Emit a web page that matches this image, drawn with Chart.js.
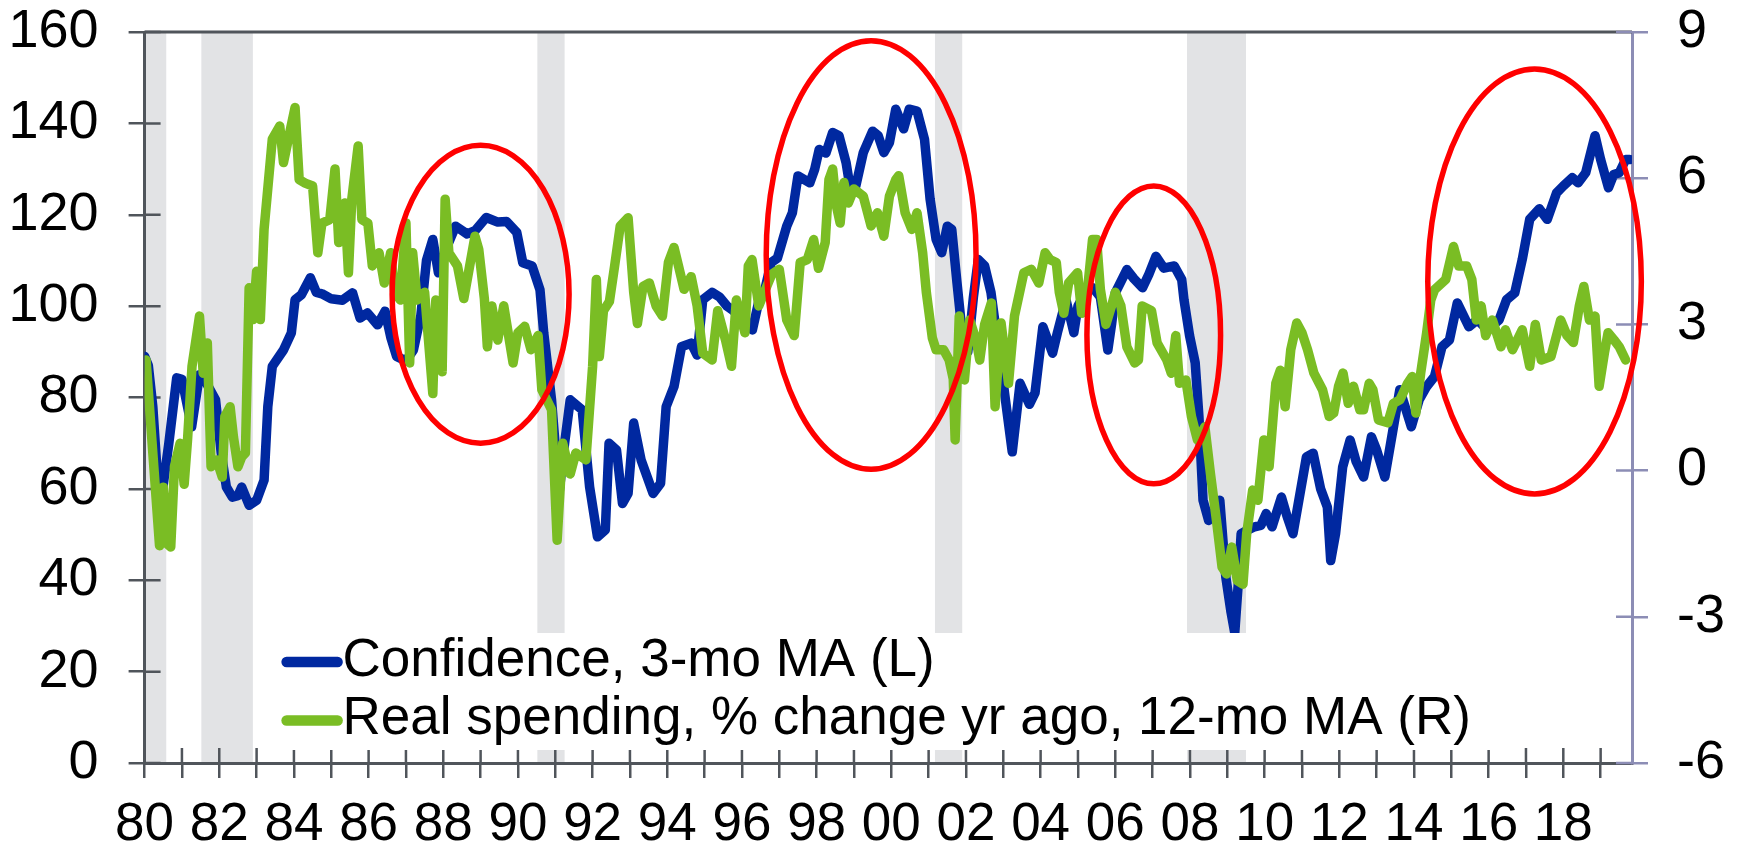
<!DOCTYPE html>
<html>
<head>
<meta charset="utf-8">
<script src="https://cdn.jsdelivr.net/npm/chart.js@4"></script>
<style>
  body { margin: 0; background: #fff; }
  #chart-box { width: 1740px; height: 849px; }
</style>
</head>
<body>
<div id="chart-box"><canvas id="confidence-chart" width="1740" height="849"></canvas></div>
<script>
// Consumer confidence (left axis), 3-mo moving average
const confYears = [
  1980.0, 1980.1, 1980.22, 1980.35, 1980.48, 1980.65, 1980.86, 1981.0, 1981.26, 1981.47, 1981.6, 1981.9,
  1982.05, 1982.19, 1982.35, 1982.5, 1982.6, 1982.8, 1983.0, 1983.2, 1983.3, 1983.42, 1983.72, 1983.93,
  1984.03, 1984.2, 1984.44, 1984.6, 1984.75, 1985.0, 1985.3, 1985.57, 1985.77, 1985.97, 1986.24, 1986.44,
  1986.6, 1986.75, 1987.0, 1987.2, 1987.4, 1987.55, 1987.72, 1987.87, 1988.1, 1988.33, 1988.64, 1988.85,
  1989.15, 1989.46, 1989.7, 1989.97, 1990.13, 1990.38, 1990.59, 1990.69, 1990.9, 1991.1, 1991.25, 1991.4,
  1991.72, 1991.92, 1992.13, 1992.34, 1992.44, 1992.64, 1992.8, 1992.95, 1993.1, 1993.3, 1993.62, 1993.82,
  1993.97, 1994.18, 1994.38, 1994.64, 1994.8, 1994.95, 1995.2, 1995.4, 1995.6, 1995.77, 1996.0, 1996.28,
  1996.45, 1996.59, 1996.78, 1996.95, 1997.2, 1997.35, 1997.5, 1997.82, 1997.95, 1998.07, 1998.25, 1998.43,
  1998.6, 1998.79, 1998.89, 1999.05, 1999.25, 1999.5, 1999.65, 1999.8, 1999.95, 2000.12, 2000.33, 2000.48,
  2000.69, 2000.89, 2001.04, 2001.2, 2001.35, 2001.5, 2001.62, 2001.76, 2001.9, 2002.05, 2002.2, 2002.33,
  2002.5, 2002.67, 2002.85, 2003.0, 2003.24, 2003.45, 2003.7, 2003.85, 2004.06, 2004.32, 2004.45, 2004.68,
  2004.89, 2005.0, 2005.2, 2005.4, 2005.6, 2005.8, 2005.9, 2006.0, 2006.31, 2006.5, 2006.73, 2006.9,
  2007.09, 2007.3, 2007.58, 2007.78, 2007.84, 2007.99, 2008.14, 2008.24, 2008.35, 2008.5, 2008.65, 2008.8,
  2008.96, 2009.1, 2009.2, 2009.3, 2009.37, 2009.55, 2009.73, 2009.9, 2010.04, 2010.2, 2010.45, 2010.6,
  2010.76, 2011.12, 2011.3, 2011.5, 2011.68, 2011.77, 2011.9, 2012.09, 2012.29, 2012.45, 2012.65, 2012.86,
  2013.0, 2013.22, 2013.42, 2013.62, 2013.93, 2014.14, 2014.34, 2014.55, 2014.75, 2014.95, 2015.16, 2015.47,
  2015.7, 2015.97, 2016.28, 2016.48, 2016.7, 2016.9, 2017.1, 2017.36, 2017.57, 2017.82, 2018.0, 2018.24,
  2018.4, 2018.6, 2018.85, 2019.0, 2019.21, 2019.35, 2019.5, 2019.67, 2019.78
];
const confValues = [
  89, 87, 78, 62, 59.7, 70, 84.3, 84, 73.6, 85, 84, 79.5,
  68, 60.4, 58.2, 58.5, 60.4, 56.4, 57.5, 61.9, 78, 86.8, 90.4, 94.1,
  101.4, 102.5, 106.2, 103, 102.7, 101.6, 101.3, 102.9, 97.4, 98.5, 95.9, 98.9,
  93, 89, 88, 90.4, 98, 110, 114.6, 107.3, 113, 117.5, 115.8, 116.5,
  119.4, 118.4, 118.5, 116.1, 109.5, 108.8, 103.6, 94.2, 79.5, 59, 70, 79.5,
  77.3, 60.4, 49.5, 51, 70, 68.5, 56.8, 59, 74.4, 66.3, 59, 61.2,
  78, 82.4, 91.1, 91.9, 89.3, 101.4, 103, 102, 100, 99, 97, 94.8,
  101, 102.8, 109.5, 110.5, 117.5, 120.4, 128.5, 127, 130, 134.3, 133.5, 138,
  137.3, 131.4, 126.3, 126.3, 133.6, 138.3, 137.3, 133.6, 135.8, 143.1, 138.8, 143.1,
  142.7, 136.5, 123.4, 114.6, 111.7, 117.5, 116.8, 105.1, 94, 90, 102, 110.2,
  108.8, 103, 92, 83.1, 68.1, 83.1, 78.5, 81, 95.5, 89.7, 94.2, 101.4,
  94.2, 100, 103, 104, 102, 90.4, 96, 102.9, 108, 106, 104, 107,
  110.9, 108.3, 108.8, 105.8, 101.4, 93.5, 87.6, 75.8, 57.5, 53.1, 55, 57.5,
  40.7, 33, 28.5, 40, 50.2, 51, 51.7, 52, 54.6, 51.7, 58.2, 54,
  50.2, 67, 67.8, 60, 56, 44.3, 50.2, 64.8, 70.7, 66, 62.6, 71.4,
  68.5, 62.6, 72.1, 81.7, 73.6, 79.5, 82.4, 84.6, 91.1, 92.6, 100.7, 95.5,
  97, 94.8, 97, 101.4, 102.9, 110.2, 119, 121.3, 119, 124.8, 126.3, 128.1,
  127, 129.2, 137.3, 132.1, 125.9, 128.8, 129.2, 132.1, 132.1
];

// Real spending, % change yr ago, 12-mo MA (right axis)
const spendYears = [
  1980.04, 1980.4, 1980.5, 1980.6, 1980.7, 1980.8, 1980.95, 1981.06, 1981.15, 1981.27, 1981.47, 1981.57,
  1981.68, 1981.78, 1981.93, 1982.08, 1982.15, 1982.29, 1982.38, 1982.5, 1982.6, 1982.7, 1982.8, 1982.9,
  1983.0, 1983.1, 1983.2, 1983.42, 1983.62, 1983.72, 1983.85, 1984.03, 1984.14, 1984.3, 1984.5, 1984.64,
  1984.75, 1984.96, 1985.1, 1985.2, 1985.36, 1985.46, 1985.55, 1985.72, 1985.82, 1985.98, 1986.1, 1986.28,
  1986.42, 1986.59, 1986.7, 1986.85, 1987.0, 1987.1, 1987.18, 1987.3, 1987.5, 1987.72, 1987.8, 1987.9,
  1987.97, 1988.05, 1988.15, 1988.38, 1988.55, 1988.85, 1988.95, 1989.1, 1989.18, 1989.3, 1989.46, 1989.62,
  1989.87, 1990.0, 1990.18, 1990.35, 1990.54, 1990.64, 1990.9, 1991.05, 1991.2, 1991.4, 1991.55, 1991.82,
  1992.0, 1992.1, 1992.18, 1992.29, 1992.45, 1992.59, 1992.74, 1992.95, 1993.1, 1993.2, 1993.35, 1993.52,
  1993.7, 1993.87, 1994.03, 1994.18, 1994.3, 1994.45, 1994.64, 1994.8, 1994.95, 1995.2, 1995.35, 1995.56,
  1995.72, 1995.85, 1996.08, 1996.17, 1996.27, 1996.45, 1996.6, 1996.8, 1997.0, 1997.2, 1997.4, 1997.56,
  1997.75, 1997.92, 1998.05, 1998.23, 1998.33, 1998.43, 1998.53, 1998.63, 1998.73, 1998.85, 1999.0, 1999.25,
  1999.46, 1999.63, 1999.8, 1999.95, 2000.12, 2000.2, 2000.37, 2000.55, 2000.69, 2000.84, 2000.94, 2001.1,
  2001.2, 2001.4, 2001.55, 2001.66, 2001.71, 2001.82, 2001.96, 2002.1, 2002.27, 2002.37, 2002.5, 2002.68,
  2002.78, 2002.94, 2003.14, 2003.3, 2003.55, 2003.75, 2003.95, 2004.12, 2004.25, 2004.42, 2004.5, 2004.62,
  2004.75, 2004.99, 2005.1, 2005.25, 2005.39, 2005.5, 2005.6, 2005.75, 2005.9, 2006.0, 2006.15, 2006.31,
  2006.52, 2006.62, 2006.72, 2006.97, 2007.12, 2007.38, 2007.5, 2007.62, 2007.72, 2007.89, 2008.04, 2008.2,
  2008.4, 2008.55, 2008.71, 2008.86, 2008.98, 2009.12, 2009.27, 2009.42, 2009.52, 2009.68, 2009.82, 2009.98,
  2010.12, 2010.3, 2010.42, 2010.55, 2010.7, 2010.86, 2011.0, 2011.15, 2011.32, 2011.55, 2011.73, 2011.85,
  2011.98, 2012.1, 2012.24, 2012.38, 2012.55, 2012.65, 2012.8, 2012.9, 2013.05, 2013.3, 2013.45, 2013.62,
  2013.83, 2013.95, 2014.05, 2014.18, 2014.34, 2014.45, 2014.55, 2014.85, 2015.06, 2015.2, 2015.41, 2015.55,
  2015.67, 2015.8, 2015.92, 2016.1, 2016.33, 2016.45, 2016.64, 2016.9, 2017.1, 2017.25, 2017.41, 2017.67,
  2017.93, 2018.1, 2018.27, 2018.43, 2018.55, 2018.7, 2018.85, 2018.96, 2019.1, 2019.2, 2019.36, 2019.5,
  2019.67
];
const spendValues = [
  2.27, -1.54, -0.34, -1.5, -1.57, 0.08, 0.56, -0.28, 0.63, 2.14, 3.17, 2.0,
  2.62, 0.08, 0.22, -0.13, 1.11, 1.31, 0.69, 0.08, 0.28, 0.36, 3.75, 3.1,
  4.09, 3.1, 4.95, 6.8, 7.07, 6.32, 6.8, 7.45, 5.97, 5.9, 5.84, 4.47,
  5.08, 5.15, 6.19, 4.68, 5.49, 4.06, 5.57, 6.66, 5.15, 5.08, 4.2, 4.47,
  3.85, 4.47, 3.66, 3.5, 5.08, 2.21, 4.47, 3.5, 3.66, 1.58, 3.5, 3.38,
  2.03, 5.57, 4.47, 4.2, 3.53, 4.81, 4.54, 3.53, 2.54, 3.38, 2.68, 3.38,
  2.21, 2.83, 2.96, 2.48, 2.77, 1.66, 1.25, -1.43, 0.56, -0.07, 0.36, 0.22,
  2.14, 3.92, 2.34, 3.28, 3.47, 4.2, 5.02, 5.19, 3.66, 3.02, 3.78, 3.85,
  3.38, 3.17, 4.27, 4.58, 4.2, 3.72, 3.98, 3.38, 2.41, 2.27, 3.28, 2.68,
  2.14, 3.5, 2.83, 4.2, 4.33, 3.38, 3.66, 4.03, 4.13, 3.09, 2.77, 4.27,
  4.33, 4.74, 4.15, 4.68, 5.97, 6.19, 5.43, 5.08, 5.91, 5.49, 5.78, 5.63,
  5.02, 5.29, 4.81, 5.63, 5.97, 6.05, 5.29, 4.95, 5.29, 4.47, 3.65, 2.72,
  2.48, 2.48, 2.27, 1.88, 0.63, 3.17, 1.86, 3.09, 2.68, 2.27, 3.0, 3.44,
  1.31, 3.03, 1.79, 3.17, 4.06, 4.13, 3.85, 4.47, 4.33, 4.27, 3.66, 3.23,
  3.85, 4.06, 3.23, 3.66, 4.74, 4.74, 3.72, 3.0, 3.38, 3.66, 3.38, 2.54,
  2.21, 2.27, 3.38, 3.28, 2.62, 2.27, 2.0, 2.77, 1.79, 1.86, 1.11, 0.63,
  0.9, -0.07, -1.02, -1.98, -2.12, -1.57, -2.26, -2.33, -1.29, -0.4, -0.61, 0.63,
  0.08, 1.79, 2.06, 1.31, 2.48, 3.03, 2.83, 2.48, 2.0, 1.66, 1.11, 1.18,
  1.73, 2.0, 1.38, 1.73, 1.25, 1.25, 1.79, 1.66, 1.04, 0.98, 1.38, 1.45,
  1.79, 1.93, 1.18, 2.0, 2.83, 3.5, 3.71, 3.92, 4.6, 4.2, 4.2, 3.92,
  3.09, 3.38, 2.77, 3.09, 2.54, 2.89, 2.48, 2.89, 2.14, 3.0, 2.27, 2.34,
  3.09, 2.77, 2.63, 3.38, 3.78, 3.09, 3.17, 1.73, 2.41, 2.83, 2.68, 2.54,
  2.27
];

// NBER recessions (shaded)
const recessionStart = [1980.0, 1981.52, 1990.52, 2001.17, 2007.92];
const recessionEnd = [1980.58, 1982.9, 1991.25, 2001.9, 2009.5];

// red circles: centre (year, left-axis value) and half sizes
const circleYears = [1989.0, 1999.46, 2007.03, 2017.23];
const circleValues = [102.6, 111.2, 93.7, 105.4];
const circleHalfYears = [2.37, 2.81, 1.79, 2.86];
const circleHalfValues = [32.6, 46.9, 32.6, 46.5];

const FONT = '"Liberation Sans", Arial, Helvetica, sans-serif';
const AXIS_GREY = '#50555b';
const AXIS_PURPLE = '#8c8db5';
const BLUE = '#0028a0';
const GREEN = '#7abd24';

const toPoints = (xs, ys) => xs.map((x, i) => ({ x: x, y: ys[i] }));

// vertical axes: fixed width, no extra label overflow above/below
const fitVertical = width => s => {
  s.width = width;
  s.paddingTop = 0;
  s.paddingBottom = 0;
};

/**
 * Shading, cross tick marks, top frame, circles and the boxed legend.
 */
const decorations = {
  id: 'decorations',
  beforeDraw(chart) {
    const { ctx, chartArea: a, scales: { x } } = chart;
    ctx.save();
    ctx.fillStyle = '#e2e3e5';
    recessionStart.forEach((s, i) => {
      const x0 = x.getPixelForValue(s);
      const x1 = x.getPixelForValue(recessionEnd[i]);
      ctx.fillRect(x0, a.top, x1 - x0, a.bottom - a.top);
    });
    ctx.restore();
  },
  beforeDatasetsDraw(chart) {
    const { ctx, chartArea: a, scales: { x, y, y1 } } = chart;
    ctx.save();
    ctx.lineWidth = 3;
    // top frame
    ctx.strokeStyle = AXIS_GREY;
    ctx.beginPath();
    ctx.moveTo(a.left, a.top);
    ctx.lineTo(a.right, a.top);
    ctx.stroke();
    // inner halves of the tick marks
    ctx.lineWidth = 2.5;
    ctx.beginPath();
    x.ticks.forEach(t => {
      if (!Number.isInteger(t.value)) return;
      const p = x.getPixelForValue(t.value);
      ctx.moveTo(p, a.bottom);
      ctx.lineTo(p, a.bottom - 15);
    });
    y.ticks.forEach(t => {
      const p = y.getPixelForValue(t.value);
      ctx.moveTo(a.left, p);
      ctx.lineTo(a.left + 16, p);
    });
    ctx.stroke();
    ctx.strokeStyle = AXIS_PURPLE;
    ctx.beginPath();
    y1.ticks.forEach(t => {
      const p = y1.getPixelForValue(t.value);
      ctx.moveTo(a.right, p);
      ctx.lineTo(a.right - 16, p);
    });
    ctx.stroke();
    ctx.restore();
  },
  afterDatasetsDraw(chart) {
    const { ctx, chartArea: a, scales: { x, y } } = chart;
    ctx.save();
    // circles
    ctx.strokeStyle = '#ff0000';
    ctx.lineWidth = 5.5;
    circleYears.forEach((cy, i) => {
      const px = x.getPixelForValue(cy);
      const py = y.getPixelForValue(circleValues[i]);
      const rx = Math.abs(x.getPixelForValue(cy + circleHalfYears[i]) - px);
      const ry = Math.abs(y.getPixelForValue(circleValues[i] + circleHalfValues[i]) - py);
      ctx.beginPath();
      ctx.ellipse(px, py, rx, ry, 0, 0, Math.PI * 2);
      ctx.stroke();
    });
    // legend box
    const lx = a.left + 124, ly = a.bottom - 130;
    ctx.fillStyle = '#ffffff';
    ctx.fillRect(lx, ly, 1225, 117);
    ctx.font = '53px ' + FONT;
    ctx.textBaseline = 'middle';
    ctx.lineCap = 'round';
    ctx.lineWidth = 10.5;
    chart.data.datasets.forEach((ds, i) => {
      const rowY = ly + 29 + i * 58.5;
      ctx.strokeStyle = ds.borderColor;
      ctx.beginPath();
      ctx.moveTo(lx + 18, rowY);
      ctx.lineTo(lx + 69, rowY);
      ctx.stroke();
      ctx.fillStyle = '#000';
      ctx.fillText(ds.label, lx + 74, rowY - 1);
    });
    ctx.restore();
  }
};

new Chart(document.getElementById('confidence-chart'), {
  type: 'line',
  data: {
    datasets: [
      {
        label: 'Confidence, 3-mo MA (L)',
        data: toPoints(confYears, confValues),
        borderColor: BLUE,
        yAxisID: 'y',
        order: 1
      },
      {
        label: 'Real spending, % change yr ago, 12-mo MA (R)',
        data: toPoints(spendYears, spendValues),
        borderColor: GREEN,
        yAxisID: 'y1',
        order: 0
      }
    ]
  },
  options: {
    responsive: false,
    animation: false,
    devicePixelRatio: 1,
    events: [],
    layout: { padding: { top: 32, left: 0, right: 0, bottom: 0 } },
    elements: {
      point: { radius: 0 },
      line: { borderWidth: 9.5, tension: 0, borderJoinStyle: 'round', borderCapStyle: 'round' }
    },
    plugins: {
      legend: { display: false },
      tooltip: { enabled: false }
    },
    scales: {
      x: {
        type: 'linear',
        min: 1980,
        max: 2019.84,
        afterFit: s => { s.height = 86; },
        grid: { drawOnChartArea: false, tickLength: 15, color: AXIS_GREY, lineWidth: 2.5 },
        border: { color: AXIS_GREY, width: 3 },
        ticks: {
          stepSize: 1,
          includeBounds: false,
          autoSkip: false,
          maxRotation: 0,
          padding: 16,
          color: '#000',
          font: { family: FONT, size: 53 },
          callback: v => (Number.isInteger(v) && v % 2 === 0) ? String(v).slice(2) : ''
        }
      },
      y: {
        position: 'left',
        min: 0,
        max: 160,
        afterFit: fitVertical(144.6),
        grid: { drawOnChartArea: false, tickLength: 16, color: AXIS_GREY, lineWidth: 2.5 },
        border: { color: AXIS_GREY, width: 3 },
        ticks: { stepSize: 20, padding: 30, color: '#000', font: { family: FONT, size: 54 } }
      },
      y1: {
        position: 'right',
        min: -6,
        max: 9,
        afterFit: fitVertical(108),
        grid: { drawOnChartArea: false, tickLength: 16, color: AXIS_PURPLE, lineWidth: 2.5 },
        border: { color: AXIS_PURPLE, width: 3 },
        ticks: { stepSize: 3, padding: 29, color: '#000', font: { family: FONT, size: 54 } }
      }
    }
  },
  plugins: [decorations]
});
</script>
</body>
</html>
